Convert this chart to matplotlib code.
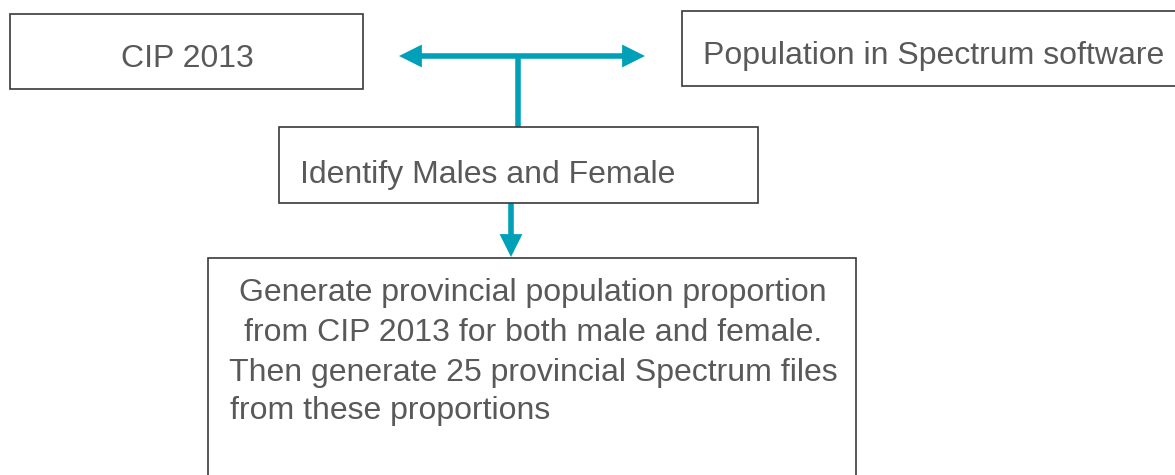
import matplotlib
matplotlib.use("Agg")
import matplotlib.pyplot as plt
from matplotlib.patches import Rectangle, FancyArrowPatch

# Box labels
box_labels = ["CIP 2013", "Population in Spectrum software", "Identify Males and Female"]
final_lines = [
    "Generate provincial population proportion",
    "from CIP 2013 for both male and female.",
    "Then generate 25 provincial Spectrum files",
    "from these proportions",
]

# Box geometry (pixels, origin top-left)
boxes = [(10, 14, 353, 75), (682, 11, 520, 75), (279, 127, 479, 76), (208, 258, 648, 240)]

TEXT_C = "#595959"
EDGE_C = "#3a3a3a"
ARROW_C = "#00A0B8"
FONT = "Liberation Sans"
FS = 23

fig = plt.figure(figsize=(11.75, 4.75), dpi=100)
ax = fig.add_axes([0, 0, 1, 1])
ax.set_xlim(0, 1175)
ax.set_ylim(475, 0)
ax.axis("off")

for (x, y, w, h) in boxes:
    ax.add_patch(Rectangle((x, y), w, h, facecolor="white", edgecolor=EDGE_C, lw=1.2, zorder=2))

ax.text(187, 59, box_labels[0], ha="center", va="center", fontsize=FS, color=TEXT_C, family=FONT, zorder=3)
ax.text(703, 56, box_labels[1], ha="left", va="center", fontsize=FS, color=TEXT_C, family=FONT, zorder=3)
ax.text(300, 175, box_labels[2], ha="left", va="center", fontsize=FS, color=TEXT_C, family=FONT, zorder=3)

ys = [293, 333, 373, 411]
for i, (line, y) in enumerate(zip(final_lines, ys)):
    if i < 3:
        ax.text(533, y, line, ha="center", va="center", fontsize=FS, color=TEXT_C, family=FONT, zorder=3)
    else:
        ax.text(230, y, line, ha="left", va="center", fontsize=FS, color=TEXT_C, family=FONT, zorder=3)

# Arrows
kw = dict(mutation_scale=1, lw=4, color=ARROW_C, shrinkA=0, shrinkB=0, zorder=1,
          joinstyle="miter", capstyle="butt")
ax.add_patch(FancyArrowPatch((399, 56), (645, 56), arrowstyle="<|-|>,head_length=10,head_width=5", **kw))
ax.plot([518, 518], [56, 127], color=ARROW_C, lw=4, solid_capstyle="butt", zorder=1)
ax.add_patch(FancyArrowPatch((511, 203), (511, 257), arrowstyle="-|>,head_length=10,head_width=5", **kw))

fig.savefig("out.png", dpi=100)
